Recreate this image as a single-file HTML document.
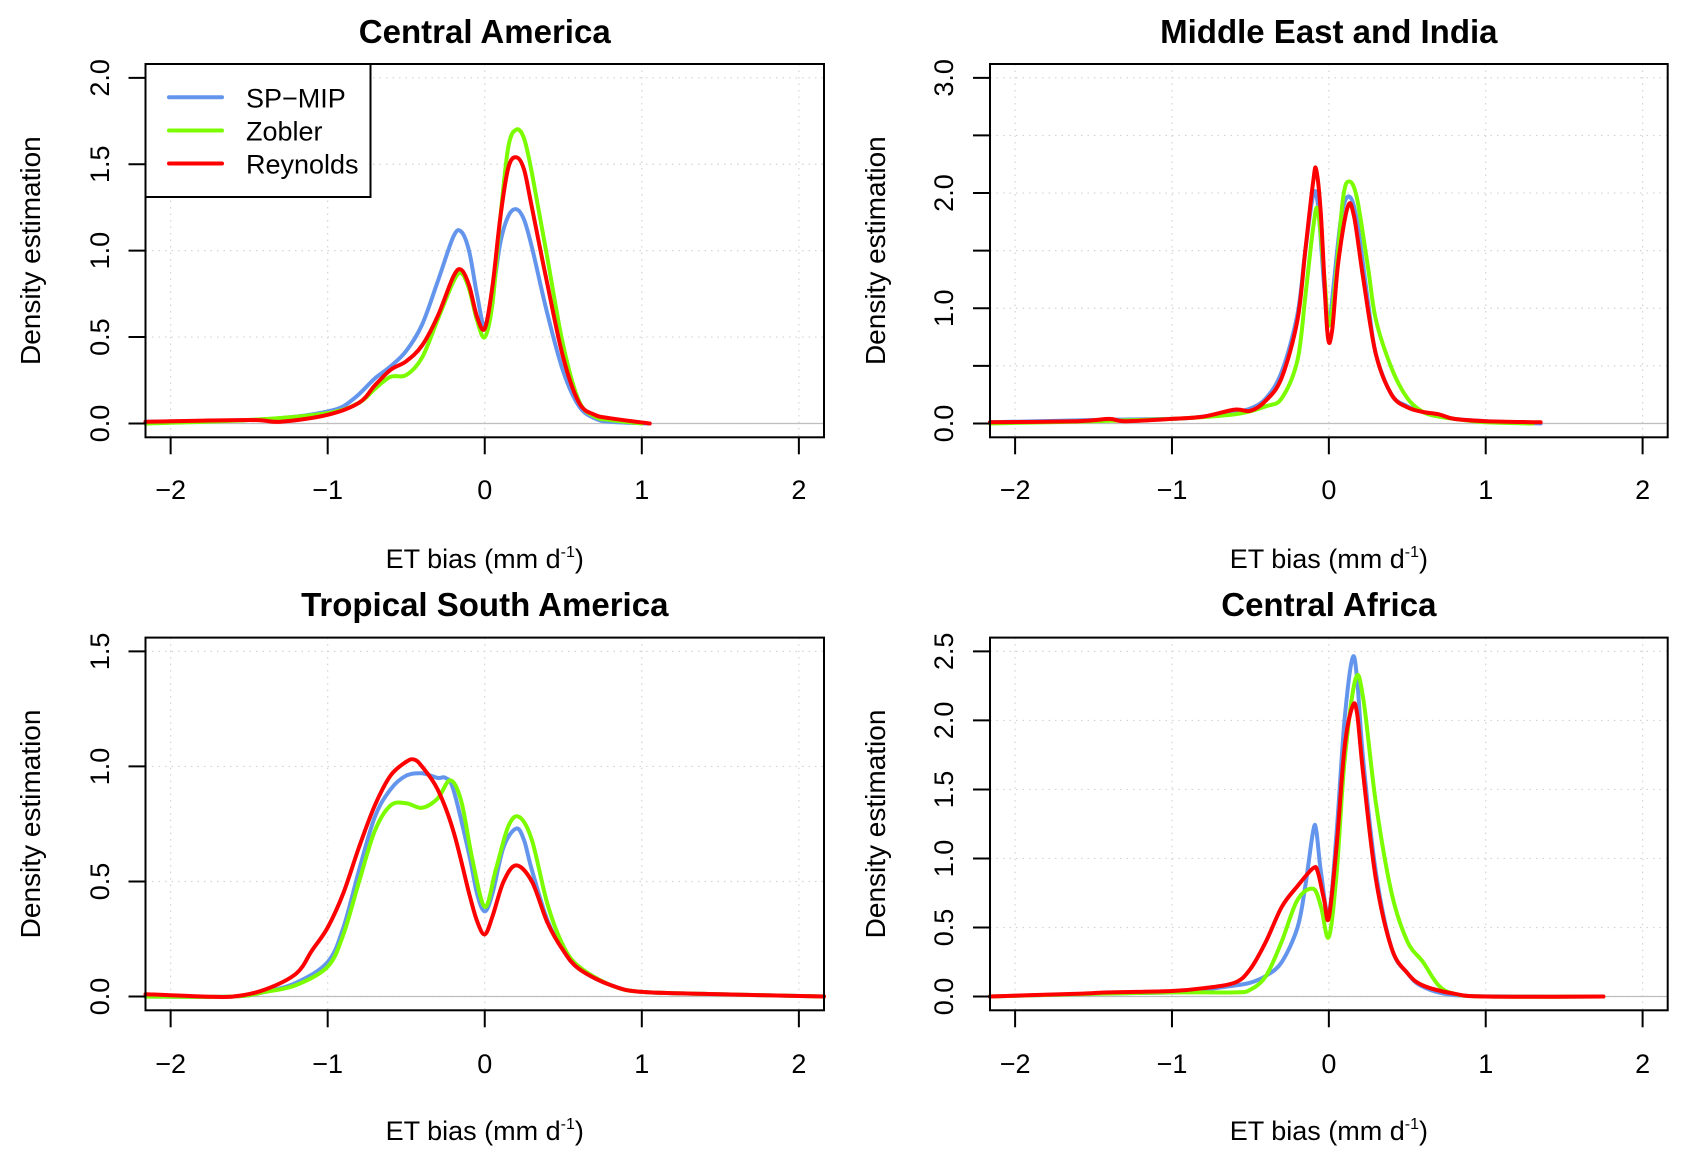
<!DOCTYPE html>
<html><head><meta charset="utf-8"><style>
html,body{margin:0;padding:0;background:#fff}
svg{display:block;font-family:"Liberation Sans",Arial,sans-serif}
</style></head><body>
<svg id="c" width="1687" height="1161" viewBox="0 0 1687 1161"></svg>
<script>
// ---- data ----
const panelTitles = ["Central America","Middle East and India","Tropical South America","Central Africa"];
const seriesNames = ["SP\u2212MIP","Zobler","Reynolds"];
const yMaxes = [2.0, 3.0, 1.5, 2.5];
const xTicks = [-2,-1,0,1,2];
const xTickLabels = ["\u22122","\u22121","0","1","2"];
const yTickLabelsCA = ["0.0","0.5","1.0","1.5","2.0"];
const yTickLabelsME = ["0.0","1.0","2.0","3.0"];
const yTickLabelsTSA = ["0.0","0.5","1.0","1.5"];
const yTickLabelsCAf = ["0.0","0.5","1.0","1.5","2.0","2.5"];

const caSP = [[-2.16,0.01],[-1.5,0.02],[-1.2,0.04],[-1,0.07],[-0.9,0.1],[-0.8,0.17],[-0.7,0.26],[-0.6,0.33],[-0.5,0.42],[-0.4,0.57],[-0.3,0.82],[-0.2,1.08],[-0.15,1.11],[-0.1,1.0],[-0.05,0.75],[0,0.56],[0.05,0.75],[0.1,1.05],[0.15,1.2],[0.2,1.24],[0.25,1.18],[0.3,1.02],[0.4,0.63],[0.5,0.3],[0.6,0.1],[0.7,0.03],[0.8,0.01],[1.05,0.0]];
const caZO = [[-2.16,0.0],[-1.5,0.02],[-1,0.06],[-0.8,0.12],[-0.7,0.2],[-0.6,0.27],[-0.5,0.28],[-0.4,0.38],[-0.3,0.6],[-0.2,0.82],[-0.15,0.87],[-0.1,0.78],[-0.05,0.6],[0,0.5],[0.05,0.7],[0.1,1.2],[0.15,1.6],[0.2,1.7],[0.25,1.65],[0.3,1.45],[0.4,0.95],[0.5,0.45],[0.6,0.13],[0.7,0.04],[0.8,0.02],[1.0,0.0]];
const caRE = [[-2.16,0.01],[-1.5,0.02],[-1.3,0.01],[-1,0.05],[-0.8,0.12],[-0.7,0.22],[-0.6,0.31],[-0.5,0.36],[-0.4,0.45],[-0.3,0.62],[-0.2,0.85],[-0.15,0.89],[-0.1,0.8],[-0.05,0.62],[0,0.55],[0.05,0.8],[0.1,1.2],[0.15,1.48],[0.2,1.54],[0.25,1.47],[0.3,1.25],[0.4,0.8],[0.5,0.38],[0.6,0.12],[0.7,0.05],[0.8,0.03],[1.05,0.0]];

const meSP = [[-2.16,0.01],[-1.5,0.03],[-1,0.04],[-0.8,0.06],[-0.6,0.1],[-0.5,0.13],[-0.4,0.22],[-0.3,0.45],[-0.2,0.95],[-0.15,1.5],[-0.1,1.98],[-0.07,1.9],[-0.03,1.2],[0,0.85],[0.03,1.2],[0.08,1.8],[0.13,1.97],[0.18,1.75],[0.25,1.05],[0.3,0.6],[0.4,0.25],[0.5,0.15],[0.6,0.1],[0.7,0.07],[0.8,0.04],[1,0.02],[1.35,0.0]];
const meZO = [[-2.16,0.0],[-1.5,0.02],[-1,0.04],[-0.6,0.08],[-0.4,0.15],[-0.3,0.22],[-0.2,0.55],[-0.15,1.1],[-0.1,1.7],[-0.07,1.85],[-0.03,1.3],[0,0.85],[0.04,1.2],[0.09,1.95],[0.13,2.1],[0.18,1.95],[0.25,1.35],[0.3,0.9],[0.4,0.48],[0.5,0.22],[0.6,0.1],[0.7,0.06],[0.8,0.04],[1,0.01],[1.3,0.0]];
const meRE = [[-2.16,0.01],[-1.6,0.02],[-1.4,0.04],[-1.3,0.02],[-1,0.04],[-0.8,0.06],[-0.6,0.12],[-0.5,0.11],[-0.4,0.2],[-0.3,0.4],[-0.2,0.9],[-0.15,1.5],[-0.1,2.1],[-0.08,2.2],[-0.05,1.8],[-0.01,0.8],[0.02,0.8],[0.06,1.4],[0.12,1.88],[0.16,1.8],[0.22,1.25],[0.3,0.6],[0.4,0.25],[0.5,0.14],[0.6,0.1],[0.7,0.08],[0.8,0.04],[1,0.02],[1.35,0.01]];

const tsSP = [[-2.16,0.0],[-1.6,0.0],[-1.4,0.02],[-1.2,0.06],[-1,0.15],[-0.9,0.3],[-0.8,0.55],[-0.7,0.78],[-0.6,0.9],[-0.5,0.96],[-0.4,0.97],[-0.3,0.95],[-0.25,0.95],[-0.2,0.9],[-0.1,0.62],[-0.05,0.45],[0,0.37],[0.05,0.45],[0.12,0.65],[0.2,0.73],[0.25,0.68],[0.3,0.55],[0.4,0.33],[0.5,0.2],[0.6,0.12],[0.8,0.05],[1,0.02],[1.5,0.01],[2.16,0.0]];
const tsZO = [[-2.16,0.0],[-1.6,0.0],[-1.4,0.02],[-1.2,0.05],[-1,0.13],[-0.9,0.27],[-0.8,0.5],[-0.7,0.72],[-0.6,0.83],[-0.5,0.84],[-0.4,0.82],[-0.3,0.86],[-0.22,0.94],[-0.15,0.85],[-0.08,0.6],[0,0.39],[0.07,0.55],[0.15,0.74],[0.22,0.78],[0.3,0.68],[0.4,0.4],[0.5,0.22],[0.6,0.13],[0.8,0.05],[1,0.02],[1.5,0.01],[2.16,0.0]];
const tsRE = [[-2.16,0.01],[-1.8,0.0],[-1.6,0.0],[-1.4,0.03],[-1.2,0.1],[-1.1,0.2],[-1,0.3],[-0.9,0.45],[-0.8,0.65],[-0.7,0.83],[-0.6,0.96],[-0.5,1.02],[-0.45,1.03],[-0.4,1.0],[-0.3,0.9],[-0.2,0.72],[-0.1,0.45],[-0.05,0.33],[0,0.27],[0.05,0.35],[0.12,0.5],[0.2,0.57],[0.3,0.5],[0.4,0.32],[0.5,0.2],[0.6,0.12],[0.8,0.05],[1,0.02],[1.5,0.01],[2.16,0.0]];

const cfSP = [[-2.16,0.0],[-1.5,0.02],[-1,0.03],[-0.8,0.05],[-0.6,0.08],[-0.5,0.1],[-0.4,0.15],[-0.3,0.25],[-0.2,0.5],[-0.15,0.8],[-0.1,1.2],[-0.08,1.2],[-0.05,0.9],[0,0.6],[0.05,1.2],[0.1,2.0],[0.15,2.45],[0.18,2.3],[0.22,1.7],[0.3,0.9],[0.4,0.35],[0.5,0.17],[0.6,0.07],[0.8,0.01],[1.2,0.0],[1.75,0.0]];
const cfZO = [[-2.16,0.0],[-1.5,0.02],[-1,0.03],[-0.6,0.03],[-0.5,0.05],[-0.4,0.15],[-0.3,0.4],[-0.2,0.7],[-0.1,0.78],[-0.05,0.65],[0,0.43],[0.05,0.9],[0.1,1.7],[0.17,2.3],[0.22,2.15],[0.3,1.4],[0.4,0.75],[0.5,0.4],[0.6,0.25],[0.7,0.08],[0.8,0.02],[1,0.0],[1.75,0.0]];
const cfRE = [[-2.16,0.0],[-1.6,0.02],[-1.4,0.03],[-1,0.04],[-0.8,0.06],[-0.6,0.1],[-0.5,0.2],[-0.4,0.4],[-0.3,0.65],[-0.2,0.8],[-0.1,0.93],[-0.07,0.9],[-0.03,0.7],[0,0.57],[0.05,1.1],[0.1,1.8],[0.15,2.1],[0.18,2.05],[0.22,1.6],[0.3,0.85],[0.4,0.35],[0.5,0.17],[0.6,0.08],[0.8,0.02],[1,0.0],[1.75,0.0]];

// ---- layout ----
const svg = document.getElementById('c');
const NS = 'http://www.w3.org/2000/svg';
const colors = ['#6495ED','#7CFC00','#FF0000'];
const boxes = [
  {x0:145.5,x1:824,y0:64,y1:437.3,lx:30,ly:99,tt:32,xt:489,xl:558},
  {x0:990,x1:1667.7,y0:64,y1:437.3,lx:875,ly:943,tt:32,xt:489,xl:558},
  {x0:145.5,x1:824,y0:637.6,y1:1010.3,lx:30,ly:99,tt:605,xt:1063,xl:1130},
  {x0:990,x1:1667.7,y0:637.6,y1:1010.3,lx:875,ly:943,tt:605,xt:1063,xl:1130}
];
const allSeries = [[caSP,caZO,caRE],[meSP,meZO,meRE],[tsSP,tsZO,tsRE],[cfSP,cfZO,cfRE]];
const yLabelSets = [yTickLabelsCA,yTickLabelsME,yTickLabelsTSA,yTickLabelsCAf];

function mk(tag, attrs, parent){
  const e = document.createElementNS(NS, tag);
  for (const k in attrs) e.setAttribute(k, attrs[k]);
  (parent||svg).appendChild(e);
  return e;
}
function smooth(pts){
  let d = 'M'+pts[0][0].toFixed(1)+','+pts[0][1].toFixed(1);
  for (let i=0;i<pts.length-1;i++){
    const p0=pts[Math.max(0,i-1)],p1=pts[i],p2=pts[i+1],p3=pts[Math.min(pts.length-1,i+2)];
    const c1x=p1[0]+(p2[0]-p0[0])/6, c1y=p1[1]+(p2[1]-p0[1])/6;
    const c2x=p2[0]-(p3[0]-p1[0])/6, c2y=p2[1]-(p3[1]-p1[1])/6;
    d+=' C'+c1x.toFixed(1)+','+c1y.toFixed(1)+' '+c2x.toFixed(1)+','+c2y.toFixed(1)+' '+p2[0].toFixed(1)+','+p2[1].toFixed(1);
  }
  return d;
}

boxes.forEach((b,pi)=>{
  const g = mk('g',{});
  
  
  const ymax = yMaxes[pi];
  const xs = v => b.x0 + (v + 2.16) / 4.32 * (b.x1 - b.x0);
  const ys = v => b.y1 - (v + 0.04*ymax) / (1.08*ymax) * (b.y1 - b.y0);
  const cx = (b.x0+b.x1)/2, cy=(b.y0+b.y1)/2;
  xTicks.forEach(t=>{
    const l = mk('line',{x1:xs(t),x2:xs(t),y1:b.y0,y2:b.y1,stroke:'#d3d3d3','stroke-width':1.2,'stroke-dasharray':'1.5 5'},g);
    
    
  });
  for (let v=0; v<=ymax+1e-9; v+=0.5){
    const l = mk('line',{x1:b.x0,x2:b.x1,y1:ys(v),y2:ys(v),stroke:'#d3d3d3','stroke-width':1.2,'stroke-dasharray':'1.5 5'},g);
    
    
  }
  const z = mk('line',{x1:b.x0,x2:b.x1,y1:ys(0),y2:ys(0),stroke:'#bebebe','stroke-width':1.2},g);
  
  
  allSeries[pi].forEach((s,si)=>{
    const pts = s.map(p=>[xs(p[0]), ys(p[1])]);
    const p = mk('path',{d:smooth(pts),fill:'none',stroke:colors[si],'stroke-width':4,'stroke-linejoin':'round','stroke-linecap':'round'},g);
    
    
  });
  const r = mk('rect',{x:b.x0,y:b.y0,width:b.x1-b.x0,height:b.y1-b.y0,fill:'none',stroke:'#000','stroke-width':2},g);
  
  
  xTicks.forEach((t,i)=>{
    const l = mk('line',{x1:xs(t),x2:xs(t),y1:b.y1,y2:b.y1+17,stroke:'#000','stroke-width':2},g);
    
    
    const tx = mk('text',{x:xs(t),y:b.xt+10,'font-size':27,'text-anchor':'middle'},g);
    tx.textContent = xTickLabels[i];
    
    
  });
  for (let v=0; v<=ymax+1e-9; v+=0.5){
    const l = mk('line',{x1:b.x0-17,x2:b.x0,y1:ys(v),y2:ys(v),stroke:'#000','stroke-width':2},g);
    
    
  }
  const labs = yLabelSets[pi];
  const step = ymax/(labs.length-1);
  labs.forEach((lab,i)=>{
    const yy = ys(i*step);
    const tx = mk('text',{x:b.ly+10,y:yy,'font-size':27,'text-anchor':'middle',transform:'rotate(-90 '+(b.ly+10)+' '+yy+')'},g);
    tx.textContent = lab;
    
    
  });
  const tt = mk('text',{x:cx,y:b.tt+11,'font-size':33,'font-weight':'bold','text-anchor':'middle'},g);
  tt.textContent = panelTitles[pi];
  
  
  const yl = mk('text',{x:b.lx+10,y:cy,'font-size':28,'text-anchor':'middle',transform:'rotate(-90 '+(b.lx+10)+' '+cy+')'},g);
  yl.textContent = 'Density estimation';
  
  
  const xl = mk('text',{x:cx,y:b.xl+10,'font-size':27,'text-anchor':'middle'},g);
  
  
  xl.appendChild(document.createTextNode('ET bias (mm d'));
  const sup = mk('tspan',{'font-size':16,dy:-11},xl);
  sup.textContent='-1';
  const cl = mk('tspan',{dy:11},xl);
  cl.textContent=')';
});

const lg = mk('g',{});


const lr = mk('rect',{x:145.5,y:64,width:225,height:133,fill:'#fff',stroke:'#000','stroke-width':2},lg);


const rowsY=[97.3,130.5,163.5];
seriesNames.forEach((n,i)=>{
  const l = mk('line',{x1:169,x2:222,y1:rowsY[i],y2:rowsY[i],stroke:colors[i],'stroke-width':4,'stroke-linecap':'round'},lg);
  
  
  const t = mk('text',{x:246,y:rowsY[i]+10,'font-size':27},lg);
  t.textContent = n;
  
  
});
</script>
</body></html>
